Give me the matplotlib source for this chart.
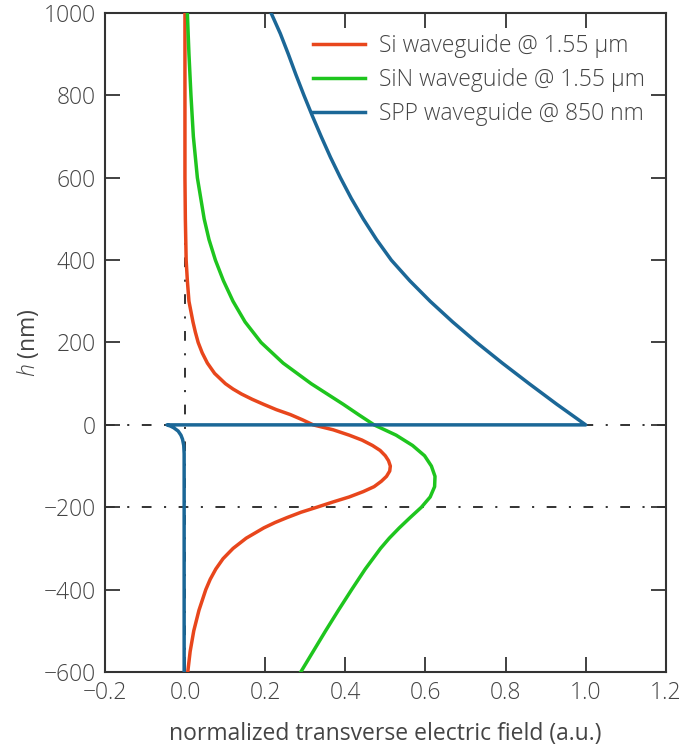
import numpy as np
import matplotlib
matplotlib.use("Agg")
import matplotlib.pyplot as plt

plt.rcParams['font.family'] = ['Open Sans', 'DejaVu Sans']
plt.rcParams['font.weight'] = 'light'
plt.rcParams['mathtext.fontset'] = 'custom'
plt.rcParams['mathtext.it'] = 'Open Sans:italic:light'
plt.rcParams['mathtext.rm'] = 'Open Sans:light'
plt.rcParams['lines.scale_dashes'] = False

# Si waveguide @ 1.55 um
si_h = [1000, 800, 600, 500, 400, 350, 300, 250, 225, 200, 175, 150, 125, 100, 87, 75, 62, 50, 37, 25, 12, 0,
        -12, -25, -37, -50, -62, -75, -87, -100, -112, -125, -137, -150, -162, -175, -187, -200,
        -212, -225, -237, -250, -275, -300, -325, -350, -375, -400, -450, -500, -550, -600]
si_e = [0.0, 0.0, 0.0, 0.001, 0.003, 0.006, 0.010, 0.020, 0.026, 0.033, 0.043, 0.056, 0.074, 0.101, 0.12, 0.141, 0.168, 0.196, 0.228, 0.263, 0.294, 0.32,
        0.37, 0.41, 0.442, 0.468, 0.487, 0.50, 0.508, 0.5125, 0.511, 0.503, 0.49, 0.472, 0.445, 0.41, 0.37, 0.329,
        0.29, 0.255, 0.225, 0.197, 0.153, 0.12, 0.095, 0.077, 0.063, 0.052, 0.035, 0.022, 0.013, 0.007]

# SiN waveguide @ 1.55 um
sin_h = [1000, 900, 800, 700, 600, 500, 450, 400, 350, 300, 250, 200, 150, 100, 75, 50, 25, 0,
         -25, -50, -75, -100, -125, -150, -175, -200, -225, -250, -275, -300, -350, -400, -450,
         -500, -550, -600]
sin_e = [0.006, 0.010, 0.015, 0.021, 0.031, 0.048, 0.060, 0.076, 0.096, 0.120, 0.150, 0.19, 0.245, 0.315, 0.355, 0.395, 0.433, 0.472,
         0.527, 0.568, 0.598, 0.615, 0.624, 0.623, 0.612, 0.59, 0.562, 0.535, 0.51, 0.488, 0.45, 0.416, 0.383,
         0.351, 0.32, 0.289]

# SPP waveguide @ 850 nm
spp_h = [1000, 950, 900, 850, 800, 750, 700, 650, 600, 550, 500, 450, 400, 350, 300, 250, 200, 150, 100, 50, 0,
         0, -3, -7, -15, -25, -35, -50, -70, -100, -600]
spp_e = [0.215, 0.238, 0.258, 0.277, 0.297, 0.318, 0.34, 0.363, 0.388, 0.415, 0.445, 0.478, 0.515, 0.561, 0.612, 0.668, 0.728, 0.792, 0.859, 0.928, 1.0,
         -0.045, -0.036, -0.028, -0.017, -0.010, -0.006, -0.003, -0.002, -0.002, -0.002]

fig = plt.figure(figsize=(6.85, 7.47), dpi=100)
ax = fig.add_axes([0.153, 0.1004, 0.819, 0.8822])

dd = (0, (7, 9, 1.5, 9))
ax.axhline(0, color='#222222', lw=1.3, ls=dd, zorder=1)
ax.axhline(-200, color='#222222', lw=1.3, ls=dd, zorder=1)
ax.axvline(0, color='#222222', lw=1.3, ls=dd, zorder=1)

ax.plot(si_e, si_h, color='#e8461c', lw=2.5, label='Si waveguide @ 1.55 µm', zorder=3,
        solid_joinstyle='round')
ax.plot(sin_e, sin_h, color='#1ec51e', lw=2.5, label='SiN waveguide @ 1.55 µm', zorder=3,
        solid_joinstyle='round')
ax.plot(spp_e, spp_h, color='#1b6797', lw=2.5, label='SPP waveguide @ 850 nm', zorder=4,
        solid_joinstyle='round')

ax.set_xlim(-0.2, 1.2)
ax.set_ylim(-600, 1000)
ax.set_xticks([-0.2, 0.0, 0.2, 0.4, 0.6, 0.8, 1.0, 1.2])
ax.set_xticklabels(['\u22120.2', '0.0', '0.2', '0.4', '0.6', '0.8', '1.0', '1.2'])
ax.set_yticks(range(-600, 1001, 200))
ax.set_yticklabels([('\u2212' + str(-v)) if v < 0 else str(v) for v in range(-600, 1001, 200)])
ax.tick_params(direction='in', length=11, width=1.3, color='#333333', labelcolor='#444444',
               labelsize=16.5, top=True, right=True, pad=6.5)
for s in ax.spines.values():
    s.set_color('#333333')
    s.set_linewidth(1.5)

ax.set_xlabel('normalized transverse electric field (a.u.)', fontsize=16.5, color='#444444', labelpad=12)
ax.set_ylabel(r'$h$ (nm)', fontsize=16.5, color='#444444', labelpad=2)

ax.legend(loc='upper right', frameon=False, fontsize=16.5, handlelength=2.3, handletextpad=0.6,
          labelspacing=0.45, borderaxespad=0.5, labelcolor='#444444')

fig.savefig('out.png', dpi=100)
